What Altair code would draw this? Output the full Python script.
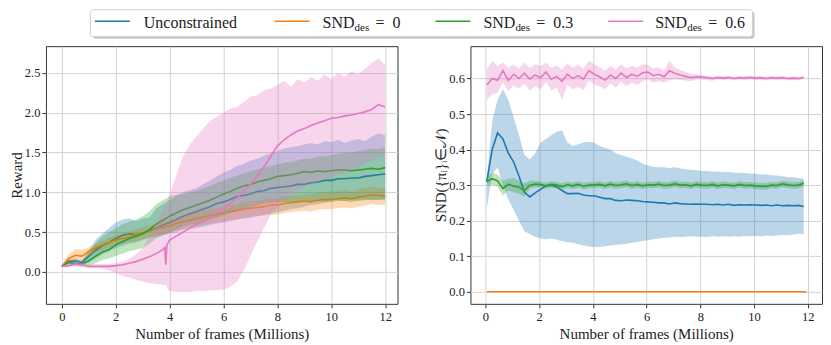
import altair as alt
import pandas as pd

FONT = "Liberation Serif"
COLORS = ["#1f77b4", "#ff7f0e", "#2ca02c", "#e377c2"]

# ---------------- Left panel: Reward ----------------
X_L = [i * 0.25 for i in range(49)]

BLUE_L_MEAN = [0.07, 0.13, 0.14, 0.12, 0.20, 0.27, 0.33, 0.37, 0.42, 0.46,
               0.48, 0.47, 0.49, 0.52, 0.55, 0.59, 0.62, 0.66, 0.70, 0.73,
               0.76, 0.79, 0.82, 0.86, 0.88, 0.91, 0.95, 0.96, 0.98, 1.01,
               1.02, 1.05, 1.06, 1.07, 1.08, 1.10, 1.10, 1.12, 1.13, 1.15,
               1.15, 1.17, 1.17, 1.18, 1.18, 1.20, 1.21, 1.22, 1.23]
BLUE_L_HI = [0.08, 0.16, 0.17, 0.15, 0.27, 0.40, 0.48, 0.55, 0.62, 0.66,
             0.67, 0.64, 0.67, 0.68, 0.80, 0.85, 0.90, 0.96, 1.00, 1.03,
             1.05, 1.10, 1.15, 1.20, 1.25, 1.28, 1.33, 1.36, 1.40, 1.42,
             1.46, 1.49, 1.52, 1.55, 1.57, 1.58, 1.60, 1.62, 1.60, 1.64,
             1.63, 1.66, 1.62, 1.65, 1.67, 1.64, 1.70, 1.74, 1.72]
BLUE_L_LO = [0.06, 0.10, 0.10, 0.09, 0.12, 0.17, 0.22, 0.26, 0.30, 0.33,
             0.36, 0.37, 0.40, 0.43, 0.44, 0.46, 0.48, 0.50, 0.53, 0.54,
             0.55, 0.57, 0.59, 0.61, 0.62, 0.64, 0.66, 0.67, 0.68, 0.70,
             0.72, 0.73, 0.75, 0.77, 0.79, 0.80, 0.82, 0.84, 0.85, 0.87,
             0.88, 0.89, 0.89, 0.90, 0.90, 0.91, 0.90, 0.91, 0.90]

ORANGE_L_MEAN = [0.07, 0.17, 0.21, 0.20, 0.26, 0.30, 0.34, 0.37, 0.40, 0.42,
                 0.44, 0.47, 0.49, 0.51, 0.54, 0.56, 0.58, 0.61, 0.63, 0.65,
                 0.67, 0.69, 0.71, 0.72, 0.74, 0.76, 0.77, 0.79, 0.80, 0.81,
                 0.82, 0.84, 0.84, 0.86, 0.87, 0.88, 0.89, 0.88, 0.90, 0.91,
                 0.91, 0.92, 0.93, 0.92, 0.94, 0.95, 0.97, 0.96, 0.95]
ORANGE_L_HI = [0.08, 0.22, 0.29, 0.28, 0.31, 0.35, 0.39, 0.43, 0.46, 0.49,
               0.51, 0.54, 0.56, 0.58, 0.61, 0.63, 0.66, 0.69, 0.71, 0.73,
               0.75, 0.77, 0.79, 0.80, 0.82, 0.85, 0.85, 0.88, 0.89, 0.89,
               0.91, 0.93, 0.92, 0.95, 0.96, 0.97, 0.98, 0.97, 1.00, 1.00,
               1.01, 1.02, 1.03, 1.01, 1.04, 1.05, 1.07, 1.06, 1.05]
ORANGE_L_LO = [0.06, 0.12, 0.15, 0.14, 0.20, 0.24, 0.28, 0.30, 0.33, 0.35,
               0.37, 0.39, 0.41, 0.43, 0.46, 0.47, 0.49, 0.52, 0.54, 0.55,
               0.57, 0.59, 0.61, 0.62, 0.63, 0.65, 0.66, 0.68, 0.69, 0.70,
               0.71, 0.72, 0.72, 0.74, 0.75, 0.76, 0.77, 0.76, 0.78, 0.79,
               0.79, 0.80, 0.81, 0.80, 0.82, 0.83, 0.85, 0.84, 0.84]

GREEN_L_MEAN = [0.07, 0.12, 0.11, 0.10, 0.14, 0.20, 0.25, 0.28, 0.34, 0.38,
                0.42, 0.45, 0.48, 0.53, 0.60, 0.65, 0.70, 0.74, 0.78, 0.81,
                0.84, 0.87, 0.90, 0.94, 0.98, 1.01, 1.05, 1.08, 1.10, 1.13,
                1.15, 1.17, 1.20, 1.21, 1.22, 1.24, 1.26, 1.25, 1.27, 1.26,
                1.27, 1.28, 1.28, 1.27, 1.28, 1.29, 1.30, 1.29, 1.31]
GREEN_L_HI = [0.08, 0.15, 0.14, 0.13, 0.24, 0.36, 0.45, 0.50, 0.55, 0.60,
              0.63, 0.66, 0.70, 0.76, 0.85, 0.90, 0.95, 0.97, 0.98, 1.00,
              1.02, 1.05, 1.08, 1.12, 1.15, 1.18, 1.21, 1.24, 1.26, 1.29,
              1.31, 1.33, 1.35, 1.37, 1.38, 1.40, 1.42, 1.42, 1.45, 1.45,
              1.47, 1.48, 1.50, 1.50, 1.52, 1.53, 1.55, 1.54, 1.56]
GREEN_L_LO = [0.06, 0.09, 0.08, 0.07, 0.08, 0.11, 0.15, 0.17, 0.20, 0.23,
              0.26, 0.28, 0.30, 0.35, 0.42, 0.46, 0.50, 0.53, 0.57, 0.59,
              0.61, 0.63, 0.66, 0.68, 0.71, 0.74, 0.77, 0.79, 0.81, 0.84,
              0.86, 0.87, 0.88, 0.88, 0.87, 0.88, 0.89, 0.88, 0.89, 0.88,
              0.89, 0.90, 0.89, 0.88, 0.89, 0.90, 0.91, 0.90, 0.92]

X_L_PINK = X_L[:16] + [3.82, 3.86, 3.90] + X_L[16:]
PINK_L_MEAN = [0.07, 0.08, 0.10, 0.09, 0.07, 0.07, 0.07, 0.07, 0.08, 0.09,
               0.11, 0.13, 0.16, 0.19, 0.23, 0.28,
               0.31, 0.09, 0.34,
               0.40, 0.45, 0.50, 0.55, 0.60, 0.63, 0.68, 0.74, 0.80, 0.86,
               0.93, 1.02, 1.10, 1.20, 1.32, 1.45, 1.58, 1.66, 1.72, 1.77,
               1.80, 1.84, 1.87, 1.90, 1.93, 1.94, 1.96, 1.97, 1.99, 2.01,
               2.04, 2.10, 2.07]
PINK_L_HI = [0.08, 0.10, 0.13, 0.12, 0.10, 0.10, 0.10, 0.10, 0.11, 0.13,
             0.16, 0.22, 0.30, 0.45, 0.62, 0.78,
             0.82, 0.84, 0.87,
             0.98, 1.22, 1.45, 1.60, 1.70, 1.80, 1.90, 1.95, 2.00, 2.05,
             2.07, 2.13, 2.20, 2.22, 2.28, 2.30, 2.35, 2.40, 2.33, 2.42,
             2.38, 2.45, 2.40, 2.48, 2.42, 2.50, 2.45, 2.52, 2.48, 2.55,
             2.62, 2.68, 2.60]
PINK_L_LO = [0.06, 0.06, 0.07, 0.06, 0.05, 0.05, 0.04, 0.02, -0.02, -0.05,
             -0.07, -0.10, -0.12, -0.14, -0.15, -0.16,
             -0.17, -0.15, -0.20,
             -0.24, -0.25, -0.25, -0.25, -0.24, -0.24, -0.23, -0.23, -0.22, -0.19,
             -0.12, 0.02, 0.20, 0.38, 0.55, 0.72, 0.82, 0.90, 0.97, 1.03,
             1.07, 1.10, 1.13, 1.16, 1.19, 1.22, 1.25, 1.28, 1.32, 1.36,
             1.40, 1.44, 1.47]

# ---------------- Right panel: SND ----------------
X_R = [round(0.05 + 0.2 * i, 2) for i in range(60)]

PINK_R_MEAN = [0.582, 0.600, 0.595, 0.622, 0.595, 0.612, 0.600, 0.615, 0.598, 0.610,
               0.602, 0.618, 0.598, 0.606, 0.592, 0.612, 0.600, 0.608, 0.598, 0.622,
               0.612, 0.605, 0.595, 0.610, 0.600, 0.615, 0.603, 0.612, 0.606, 0.616,
               0.618, 0.608, 0.612, 0.605, 0.622, 0.615, 0.610, 0.606, 0.603, 0.605,
               0.604, 0.602, 0.600, 0.603, 0.601, 0.603, 0.600, 0.602, 0.601, 0.603,
               0.601, 0.602, 0.600, 0.602, 0.601, 0.602, 0.600, 0.601, 0.600, 0.603]
PINK_R_HI = [0.625, 0.650, 0.635, 0.645, 0.630, 0.640, 0.628, 0.645, 0.630, 0.640,
             0.635, 0.645, 0.630, 0.636, 0.625, 0.642, 0.630, 0.640, 0.628, 0.650,
             0.640, 0.632, 0.622, 0.636, 0.626, 0.640, 0.628, 0.636, 0.630, 0.640,
             0.638, 0.628, 0.632, 0.622, 0.650, 0.632, 0.624, 0.618, 0.614, 0.612,
             0.610, 0.608, 0.606, 0.608, 0.606, 0.608, 0.605, 0.607, 0.606, 0.608,
             0.606, 0.607, 0.605, 0.607, 0.606, 0.607, 0.605, 0.606, 0.605, 0.607]
PINK_R_LO = [0.540, 0.555, 0.560, 0.590, 0.565, 0.580, 0.572, 0.585, 0.566, 0.578,
             0.570, 0.590, 0.566, 0.575, 0.540, 0.582, 0.570, 0.576, 0.568, 0.594,
             0.584, 0.578, 0.570, 0.585, 0.575, 0.590, 0.578, 0.588, 0.582, 0.592,
             0.598, 0.588, 0.592, 0.588, 0.595, 0.598, 0.596, 0.594, 0.592, 0.598,
             0.598, 0.596, 0.594, 0.598, 0.596, 0.598, 0.595, 0.597, 0.596, 0.598,
             0.596, 0.597, 0.595, 0.597, 0.596, 0.597, 0.595, 0.596, 0.595, 0.599]

BLUE_R_MEAN = [0.310, 0.400, 0.447, 0.430, 0.390, 0.365, 0.325, 0.280, 0.267, 0.278,
               0.288, 0.298, 0.300, 0.295, 0.285, 0.276, 0.276, 0.277, 0.272, 0.270,
               0.270, 0.266, 0.262, 0.262, 0.257, 0.256, 0.258, 0.257, 0.256, 0.254,
               0.253, 0.252, 0.250, 0.250, 0.247, 0.250, 0.248, 0.247, 0.246, 0.247,
               0.246, 0.246, 0.245, 0.246, 0.244, 0.246, 0.243, 0.245, 0.244, 0.245,
               0.244, 0.243, 0.244, 0.242, 0.244, 0.242, 0.243, 0.242, 0.243, 0.240]
BLUE_R_HI = [0.320, 0.480, 0.540, 0.570, 0.540, 0.490, 0.440, 0.385, 0.372, 0.390,
             0.420, 0.430, 0.440, 0.450, 0.454, 0.420, 0.410, 0.415, 0.420, 0.422,
             0.420, 0.410, 0.405, 0.400, 0.390, 0.385, 0.380, 0.375, 0.370, 0.360,
             0.355, 0.352, 0.350, 0.350, 0.348, 0.350, 0.347, 0.345, 0.343, 0.342,
             0.340, 0.340, 0.338, 0.338, 0.336, 0.337, 0.335, 0.335, 0.334, 0.333,
             0.332, 0.330, 0.330, 0.328, 0.327, 0.325, 0.323, 0.322, 0.320, 0.318]
BLUE_R_LO = [0.235, 0.330, 0.350, 0.300, 0.260, 0.230, 0.200, 0.170, 0.162, 0.155,
             0.150, 0.148, 0.150, 0.146, 0.142, 0.140, 0.138, 0.134, 0.130, 0.127,
             0.126, 0.126, 0.128, 0.130, 0.132, 0.133, 0.135, 0.138, 0.140, 0.143,
             0.145, 0.148, 0.150, 0.152, 0.153, 0.155, 0.154, 0.155, 0.156, 0.155,
             0.155, 0.154, 0.156, 0.155, 0.156, 0.155, 0.156, 0.155, 0.157, 0.156,
             0.157, 0.156, 0.158, 0.157, 0.158, 0.160, 0.159, 0.161, 0.163, 0.162]

GREEN_R_MEAN = [0.310, 0.318, 0.312, 0.290, 0.303, 0.297, 0.294, 0.284, 0.300, 0.303,
                0.302, 0.298, 0.302, 0.300, 0.296, 0.301, 0.298, 0.302, 0.297, 0.300,
                0.300, 0.302, 0.298, 0.303, 0.299, 0.301, 0.304, 0.299, 0.302, 0.298,
                0.301, 0.300, 0.303, 0.299, 0.300, 0.304, 0.300, 0.301, 0.298, 0.302,
                0.300, 0.299, 0.302, 0.298, 0.301, 0.300, 0.298, 0.302, 0.299, 0.300,
                0.298, 0.297, 0.296, 0.300, 0.299, 0.304, 0.301, 0.299, 0.300, 0.305]
GREEN_R_HI = [0.322, 0.335, 0.330, 0.312, 0.318, 0.320, 0.312, 0.305, 0.312, 0.312,
              0.310, 0.307, 0.311, 0.309, 0.305, 0.310, 0.307, 0.311, 0.306, 0.309,
              0.309, 0.311, 0.307, 0.312, 0.308, 0.310, 0.313, 0.308, 0.311, 0.307,
              0.310, 0.309, 0.312, 0.308, 0.309, 0.313, 0.309, 0.310, 0.307, 0.311,
              0.309, 0.308, 0.311, 0.307, 0.310, 0.309, 0.307, 0.311, 0.308, 0.309,
              0.307, 0.306, 0.305, 0.309, 0.308, 0.313, 0.310, 0.308, 0.309, 0.314]
GREEN_R_LO = [0.300, 0.302, 0.296, 0.270, 0.285, 0.280, 0.275, 0.268, 0.290, 0.295,
              0.294, 0.290, 0.293, 0.291, 0.287, 0.292, 0.289, 0.293, 0.288, 0.291,
              0.291, 0.293, 0.289, 0.294, 0.290, 0.292, 0.295, 0.290, 0.293, 0.289,
              0.292, 0.291, 0.294, 0.290, 0.291, 0.295, 0.291, 0.292, 0.289, 0.293,
              0.291, 0.290, 0.293, 0.289, 0.292, 0.291, 0.289, 0.293, 0.290, 0.291,
              0.289, 0.288, 0.287, 0.291, 0.290, 0.295, 0.292, 0.290, 0.291, 0.296]

X_R_ORANGE = [0.05, 11.95]
ORANGE_R_MEAN = [0.0, 0.0]

X_TICKS = [0, 2, 4, 6, 8, 10, 12]
Y_TICKS_L = [0.0, 0.5, 1.0, 1.5, 2.0, 2.5]
Y_TICKS_R = [0.0, 0.1, 0.2, 0.3, 0.4, 0.5, 0.6]

X_TITLE = "Number of frames (Millions)"
Y_TITLE_L = "Reward"
Y_TITLE_R = "SND({\u03c0\u1d62}\u1d62\u2208\U0001D4A9)"

FONT_STACK = "Liberation Serif, serif"
AXIS_STYLE = dict(
    labelFont=FONT_STACK, titleFont=FONT_STACK, labelFontSize=12.5, titleFontSize=15,
    titleFontWeight="normal", labelColor="#222222", titleColor="#222222",
    domain=False, grid=True, gridColor="#d3d3d3", gridWidth=1,
    tickColor="#333333", tickSize=4,
)
LINE_W = 1.6


def series_layers(frames, mean, lo, hi, idx, xenc, yscale, yaxis):
    layers = []
    if lo is not None:
        dfb = pd.DataFrame({"frames": frames, "lo": lo, "hi": hi})
        layers.append(
            alt.Chart(dfb).mark_area(opacity=0.3, color=COLORS[idx], clip=True).encode(
                x=xenc,
                y=alt.Y("lo:Q", scale=yscale, axis=yaxis),
                y2="hi:Q",
            )
        )
    dfl = pd.DataFrame({"frames": frames, "mean": mean})
    layers.append(
        alt.Chart(dfl).mark_line(color=COLORS[idx], strokeWidth=LINE_W, clip=True).encode(
            x=xenc,
            y=alt.Y("mean:Q", scale=yscale, axis=yaxis),
        )
    )
    return layers


W, H = 352, 258

# left
xs_l = alt.Scale(domain=[-0.59, 12.46], nice=False, zero=False)
xax = alt.Axis(values=X_TICKS, title=X_TITLE, titlePadding=3, labelPadding=3, format="d", **AXIS_STYLE)
xenc_l = alt.X("frames:Q", scale=xs_l, axis=xax)
ys_l = alt.Scale(domain=[-0.40, 2.835], nice=False, zero=False)
yax_l = alt.Axis(values=Y_TICKS_L, title=Y_TITLE_L, format=".1f", titlePadding=0, labelPadding=2, **AXIS_STYLE)

left_layers = []
for frames, m, lo, hi, i in [
    (X_L, BLUE_L_MEAN, BLUE_L_LO, BLUE_L_HI, 0),
    (X_L, ORANGE_L_MEAN, ORANGE_L_LO, ORANGE_L_HI, 1),
    (X_L, GREEN_L_MEAN, GREEN_L_LO, GREEN_L_HI, 2),
    (X_L_PINK, PINK_L_MEAN, PINK_L_LO, PINK_L_HI, 3),
]:
    left_layers += series_layers(frames, m, lo, hi, i, xenc_l, ys_l, yax_l)
left = alt.layer(*left_layers).properties(width=W, height=H)

# right
xs_r = alt.Scale(domain=[-0.56, 12.53], nice=False, zero=False)
xenc_r = alt.X("frames:Q", scale=xs_r, axis=xax)
ys_r = alt.Scale(domain=[-0.034, 0.691], nice=False, zero=False)
yax_r = alt.Axis(values=Y_TICKS_R, title=Y_TITLE_R, format=".1f", titlePadding=0, labelPadding=2, **AXIS_STYLE)

right_layers = []
for frames, m, lo, hi, i in [
    (X_R, BLUE_R_MEAN, BLUE_R_LO, BLUE_R_HI, 0),
    (X_R_ORANGE, ORANGE_R_MEAN, None, None, 1),
    (X_R, GREEN_R_MEAN, GREEN_R_LO, GREEN_R_HI, 2),
    (X_R, PINK_R_MEAN, PINK_R_LO, PINK_R_HI, 3),
]:
    right_layers += series_layers(frames, m, lo, hi, i, xenc_r, ys_r, yax_r)
right = alt.layer(*right_layers).properties(width=W, height=H)

# custom legend: pixel layout relative to the left plot's origin
one = pd.DataFrame({"k": [0]})
base = alt.Chart(one)
BOX_L, BOX_R = 44.5, 707.5
leg_layers = [
    base.mark_rect(color="#9a9a9a", opacity=0.55, cornerRadius=3).encode(
        x=alt.value(BOX_L + 2), x2=alt.value(BOX_R + 2), y=alt.value(2.5), y2=alt.value(29.5)),
    base.mark_rect(fill="white", stroke="#cfcfcf", strokeWidth=1, cornerRadius=3).encode(
        x=alt.value(BOX_L), x2=alt.value(BOX_R), y=alt.value(0.5), y2=alt.value(27.5)),
]
SYM_X = [49, 229, 390, 563]
TXT_X = [98, 277, 438, 610]
LEG_MAIN = ["Unconstrained", "SND", "SND", "SND"]
LEG_SUB = ["", "des", "des", "des"]
LEG_TAIL = ["", "=\u20020", "=\u20020.3", "=\u20020.6"]
SYM_Y, BASE_Y = 12.0, 18.5
for i in range(4):
    leg_layers.append(
        base.mark_rule(color=COLORS[i], strokeWidth=LINE_W).encode(
            x=alt.value(SYM_X[i]), x2=alt.value(SYM_X[i] + 35), y=alt.value(SYM_Y)))
    leg_layers.append(
        base.mark_text(align="left", baseline="alphabetic", font=FONT, fontSize=16, color="#222222").encode(
            x=alt.value(TXT_X[i]), y=alt.value(BASE_Y), text=alt.value(LEG_MAIN[i])))
    if LEG_SUB[i]:
        leg_layers.append(
            base.mark_text(align="left", baseline="alphabetic", font=FONT, fontSize=11, color="#222222").encode(
                x=alt.value(TXT_X[i] + 32), y=alt.value(BASE_Y + 3.5), text=alt.value(LEG_SUB[i])))
        leg_layers.append(
            base.mark_text(align="left", baseline="alphabetic", font=FONT, fontSize=16, color="#222222").encode(
                x=alt.value(TXT_X[i] + 53), y=alt.value(BASE_Y), text=alt.value(LEG_TAIL[i])))
legend = alt.layer(*leg_layers).properties(
    width=720, height=30, view=alt.ViewBackground(stroke="transparent"))

chart = alt.vconcat(
    legend,
    alt.hconcat(left, right, spacing=34),
    spacing=5,
).properties(
    padding=0
).configure(
    font=FONT
).configure_view(
    stroke="#333333", strokeWidth=1
).configure_axis(**AXIS_STYLE)

chart.save("out.html", embed_options={"renderer": "svg", "actions": False})
